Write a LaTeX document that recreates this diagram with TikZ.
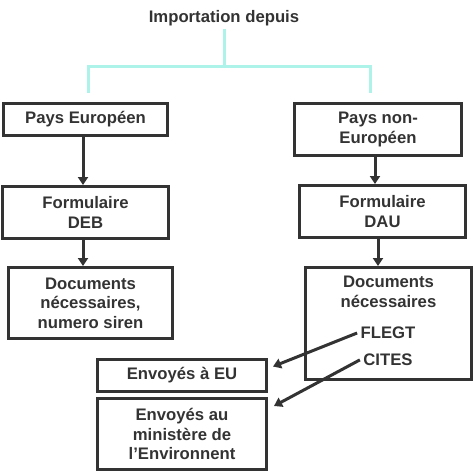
\documentclass[tikz,border=0pt]{standalone}
\usepackage{fontspec}
\setmainfont{Liberation Sans}
\usepackage{tikz}
\usetikzlibrary{arrows.meta, positioning}
\definecolor{ink}{HTML}{333333}
\definecolor{aqua}{HTML}{AEF3EA}

\begin{document}
\begin{tikzpicture}[x=1pt, y=-1pt, font=\fontsize{16.7}{19.5}\selectfont\bfseries, text=ink]
\tikzset{box/.style={draw=ink, line width=3pt, rectangle, align=center, inner sep=0pt},
flow/.style={draw=ink, line width=3pt, -{Triangle[width=10pt,length=8pt]}},
tree/.style={draw=aqua, line width=3pt}}
\useasboundingbox (0,0) rectangle (474,474);

\node (T) at (224,18) {Importation depuis};
\coordinate (fork) at (224,66);
\coordinate (toE) at (88,93);
\coordinate (toN) at (370,93);

\node[box, minimum width=164pt, minimum height=32pt] (PE) at (85.5,119.5) {Pays Européen};
\node[box, minimum width=167pt, minimum height=52pt] (PN) at (378,129.5) {Pays non-\\Européen};
\node[box, minimum width=166pt, minimum height=52pt] (DEB) at (85.5,212.5) {Formulaire\\DEB};
\node[box, minimum width=166pt, minimum height=52pt] (DAU) at (382.5,211.5) {Formulaire\\DAU};
\node[box, minimum width=164pt, minimum height=71pt] (DocE) at (90.5,303) {Documents\\nécessaires,\\numero siren};
\node[box, minimum width=166pt, minimum height=112pt] (DocN) at (388.5,323.5) {};
\node[anchor=north, align=center, inner sep=0pt, yshift=-10pt] (DocNt) at (DocN.north) {Documents\\nécessaires};
\node (F) at (388,333) {FLEGT};
\node[below=8pt of F] (C) {CITES};
\node[box, minimum width=169pt, minimum height=32pt] (EU) at (182,375.5) {Envoyés à EU};
\node[box, minimum width=169pt, minimum height=71pt] (Min) at (182,434) {Envoyés au\\ministère de\\l’Environnent};

\draw[tree] (T) -- (fork);
\draw[tree] (toE) |- (fork) -| (toN);

\draw[flow] (PE.south -| 83,0) -- (DEB.north -| 83,0);
\draw[flow] (DEB.south -| 83,0) -- (DocE.north -| 83,0);
\draw[flow] (PN.south -| 375,0) -- (DAU.north -| 375,0);
\draw[flow] (DAU.south -| 378,0) -- (DocN.north -| 378,0);
\draw[flow] (F.west) -- ([xshift=5pt, yshift=9pt]EU.east);
\draw[flow] (C.west) -- ([xshift=6pt, yshift=-9pt]Min.north east);
\end{tikzpicture}
\end{document}
